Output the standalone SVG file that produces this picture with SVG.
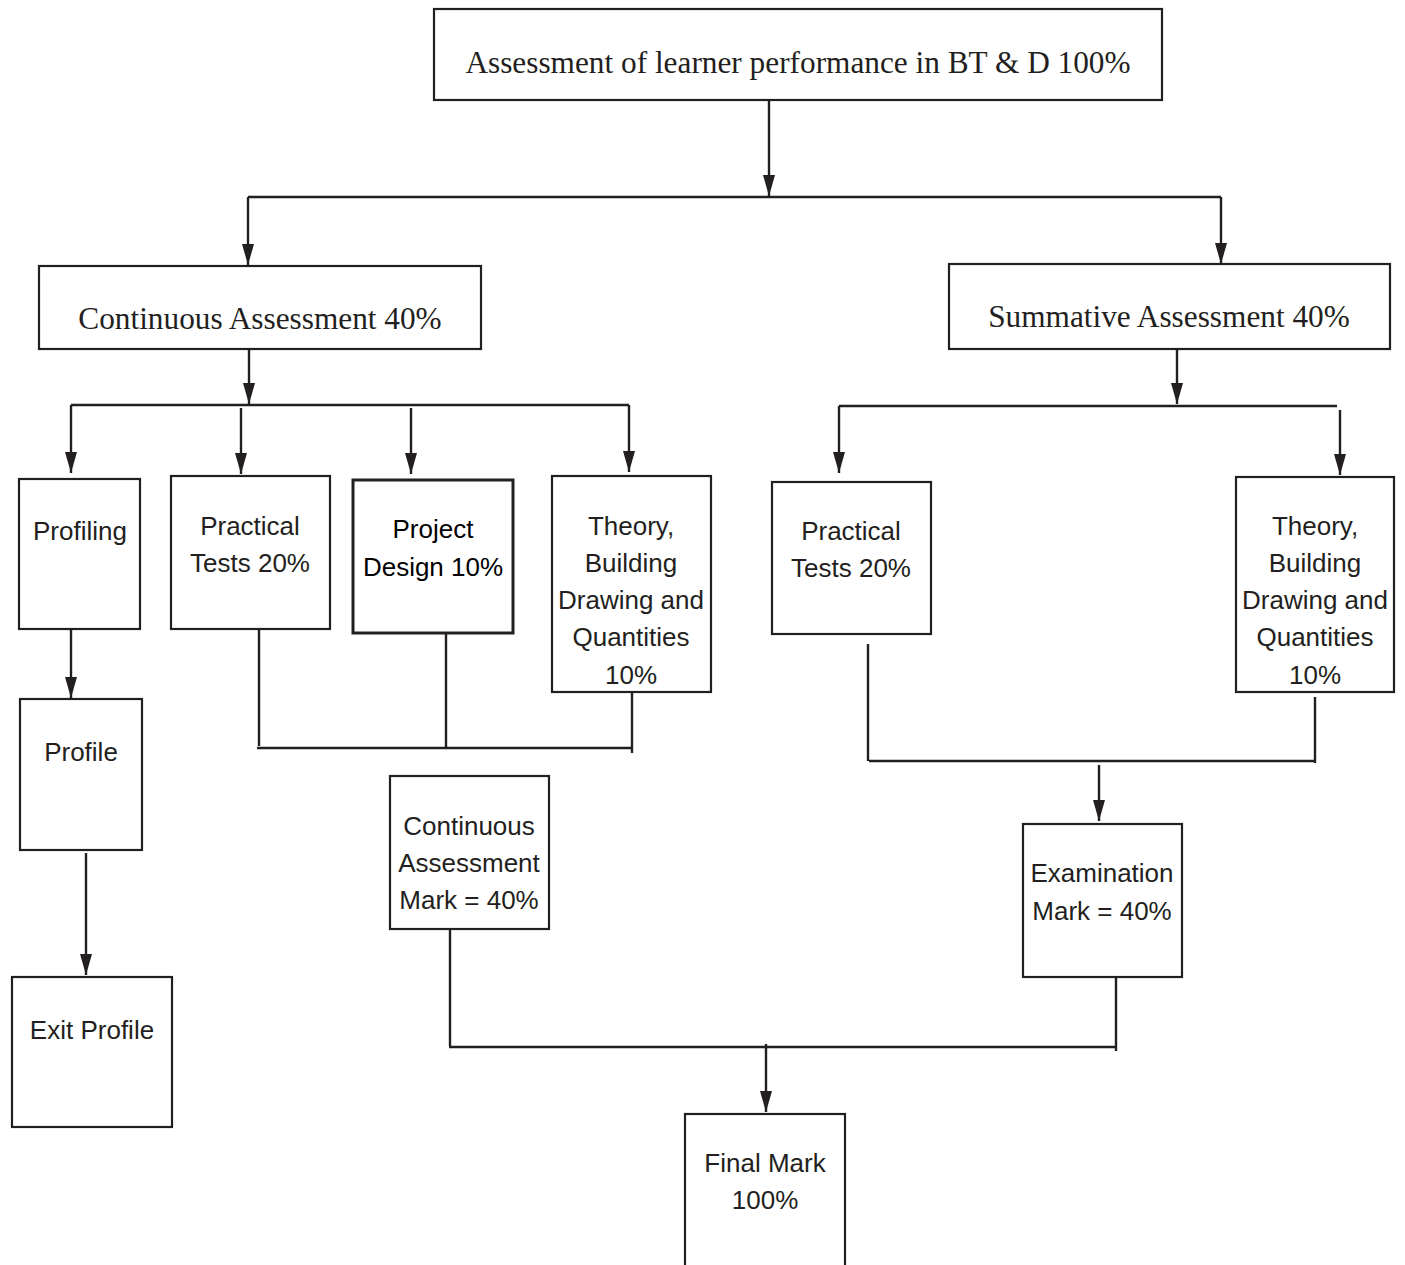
<svg xmlns="http://www.w3.org/2000/svg" width="1405" height="1265" viewBox="0 0 1405 1265">
<style>
.box{fill:#fff;stroke:#231f20;stroke-width:2.2}
.bold{stroke-width:3}
.ser{font-family:"Liberation Serif","Times New Roman",serif;font-size:31.3px;fill:#231f20;text-anchor:middle}
.san{font-family:"Liberation Sans",Arial,sans-serif;font-size:26px;fill:#231f20;text-anchor:middle}
.blk{fill:#000}
.ln{fill:none;stroke:#231f20;stroke-width:2.4}
</style>
<rect width="1405" height="1265" fill="#fff"/>
<g id="connectors">
<path class="ln" d="M769,100 V196"/>
<path class="ln" d="M248,197 H1221"/>
<path class="ln" d="M248,197 V265"/>
<path class="ln" d="M1221,197 V264"/>
<path class="ln" d="M249,349 V404"/>
<path class="ln" d="M71,405 H629"/>
<path class="ln" d="M71,405 V473"/>
<path class="ln" d="M241,408 V474"/>
<path class="ln" d="M411,408 V474"/>
<path class="ln" d="M629,405 V472"/>
<path class="ln" d="M71,629 V698"/>
<path class="ln" d="M86,853 V975"/>
<path class="ln" d="M259,629 V746"/>
<path class="ln" d="M446,633 V747"/>
<path class="ln" d="M632,690 V753"/>
<path class="ln" d="M257,748 H632"/>
<path class="ln" d="M1177,349 V404"/>
<path class="ln" d="M839,406 H1337"/>
<path class="ln" d="M839,406 V473"/>
<path class="ln" d="M1340,410 V475"/>
<path class="ln" d="M868,644 V761"/>
<path class="ln" d="M1315,697 V763"/>
<path class="ln" d="M869,761 H1315"/>
<path class="ln" d="M1099,765 V821"/>
<path class="ln" d="M450,929 V1046"/>
<path class="ln" d="M449,1047 H1116"/>
<path class="ln" d="M1116,977 V1051"/>
<path class="ln" d="M766,1044 V1112"/>
<g fill="#231f20">
<path d="M763,175 L775,175 L769,196 Z"/>
<path d="M242,244 L254,244 L248,265 Z"/>
<path d="M1215,243 L1227,243 L1221,264 Z"/>
<path d="M243,383 L255,383 L249,404 Z"/>
<path d="M65,452 L77,452 L71,473 Z"/>
<path d="M235,453 L247,453 L241,474 Z"/>
<path d="M405,453 L417,453 L411,474 Z"/>
<path d="M623,451 L635,451 L629,472 Z"/>
<path d="M65,677 L77,677 L71,698 Z"/>
<path d="M80,954 L92,954 L86,975 Z"/>
<path d="M1171,383 L1183,383 L1177,404 Z"/>
<path d="M833,452 L845,452 L839,473 Z"/>
<path d="M1334,454 L1346,454 L1340,475 Z"/>
<path d="M1093,800 L1105,800 L1099,821 Z"/>
<path d="M760,1091 L772,1091 L766,1112 Z"/>
</g>
</g>
<g id="n-top"><rect class="box" x="434" y="9" width="728" height="91"/><text class="ser" x="798" y="73">Assessment of learner performance in BT &amp; D 100%</text></g>
<g id="n-ca"><rect class="box" x="39" y="266" width="442" height="83"/><text class="ser" x="260" y="329">Continuous Assessment 40%</text></g>
<g id="n-sa"><rect class="box" x="949" y="264" width="441" height="85"/><text class="ser" x="1169" y="327">Summative Assessment 40%</text></g>
<g id="n-profiling"><rect class="box" x="19" y="479" width="121" height="150"/><text class="san" x="80" y="540">Profiling</text></g>
<g id="n-pt1"><rect class="box" x="171" y="476" width="159" height="153"/><text class="san" x="250" y="535">Practical</text><text class="san" x="250" y="572">Tests 20%</text></g>
<g id="n-pd"><rect class="box bold" x="353" y="480" width="160" height="153"/><text class="san blk" x="433" y="538">Project</text><text class="san blk" x="433" y="576">Design 10%</text></g>
<g id="n-th1"><rect class="box" x="552" y="476" width="159" height="216"/><text class="san" x="631" y="535">Theory,</text><text class="san" x="631" y="572">Building</text><text class="san" x="631" y="609">Drawing and</text><text class="san" x="631" y="646">Quantities</text><text class="san" x="631" y="684">10%</text></g>
<g id="n-profile"><rect class="box" x="20" y="699" width="122" height="151"/><text class="san" x="81" y="761">Profile</text></g>
<g id="n-exit"><rect class="box" x="12" y="977" width="160" height="150"/><text class="san" x="92" y="1039">Exit Profile</text></g>
<g id="n-camark"><rect class="box" x="390" y="776" width="159" height="153"/><text class="san" x="469" y="835">Continuous</text><text class="san" x="469" y="872">Assessment</text><text class="san" x="469" y="909">Mark = 40%</text></g>
<g id="n-pt2"><rect class="box" x="772" y="482" width="159" height="152"/><text class="san" x="851" y="540">Practical</text><text class="san" x="851" y="577">Tests 20%</text></g>
<g id="n-th2"><rect class="box" x="1236" y="477" width="158" height="215"/><text class="san" x="1315" y="535">Theory,</text><text class="san" x="1315" y="572">Building</text><text class="san" x="1315" y="609">Drawing and</text><text class="san" x="1315" y="646">Quantities</text><text class="san" x="1315" y="684">10%</text></g>
<g id="n-exam"><rect class="box" x="1023" y="824" width="159" height="153"/><text class="san" x="1102" y="882">Examination</text><text class="san" x="1102" y="920">Mark = 40%</text></g>
<g id="n-final"><rect class="box" x="685" y="1114" width="160" height="170"/><text class="san" x="765" y="1172">Final Mark</text><text class="san" x="765" y="1209">100%</text></g>
</svg>
